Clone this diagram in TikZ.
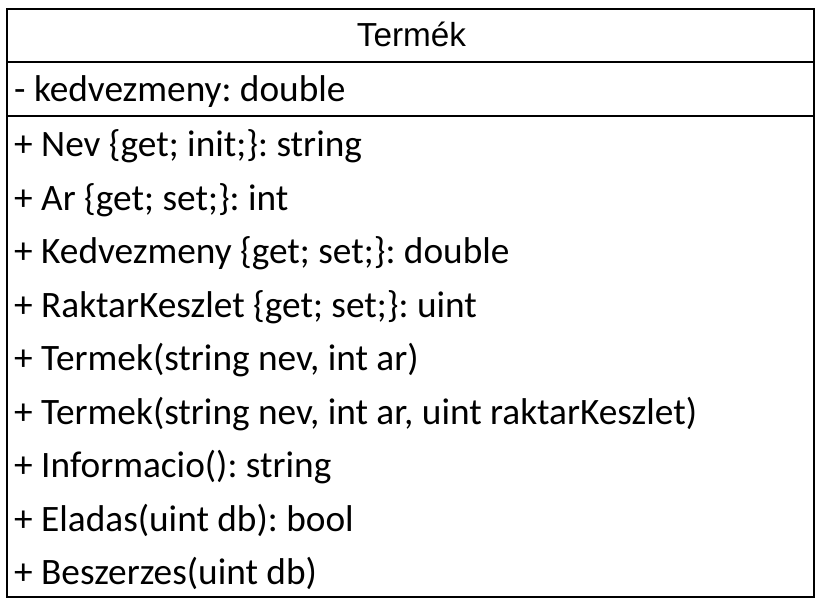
\documentclass[tikz,border=0pt]{standalone}
\usepackage{fontspec}
\setmainfont{Carlito}
\newfontfamily\titlefont{Liberation Sans}
\frenchspacing
\begin{document}
\begin{tikzpicture}[x=1pt,y=-1pt,
 member/.style={anchor=base west,inner sep=0pt,font=\fontsize{37.3}{40}\selectfont},
 classline/.style={line width=2.2pt}]
\useasboundingbox (0,0) rectangle (822,605);
 \draw[classline] (7,9) rectangle (814,597);
 \draw[classline] (7,62)--(814,62);
 \draw[classline] (7,116)--(814,116);
 \node[anchor=base,inner sep=0pt,font=\titlefont\fontsize{33.3}{36}\selectfont] (title) at (411.5,46) {Termék};
 \node[member] (kedvAttr) at (14,101.7) {- kedvezmeny: double};
 \node[member] (nevProp) at (14,156.7) {+ Nev \{get; init;\}: string};
 \node[member] (arProp) at (14,210.2) {+ Ar \{get; set;\}: int};
 \node[member] (kedvProp) at (14,263.7) {+ Kedvezmeny \{get; set;\}: double};
 \node[member] (keszletProp) at (14,317.2) {+ RaktarKeszlet \{get; set;\}: uint};
 \node[member] (ctorA) at (14,370.7) {+ Termek(string nev, int ar)};
 \node[member] (ctorB) at (14,424.2) {+ Termek(string nev, int ar, uint raktarKeszlet)};
 \node[member] (infoMeth) at (14,477.7) {+ Informacio(): string};
 \node[member] (eladMeth) at (14,531.2) {+ Eladas(uint db): bool};
 \node[member] (beszMeth) at (14,584.7) {+ Beszerzes(uint db)};
\end{tikzpicture}
\end{document}
